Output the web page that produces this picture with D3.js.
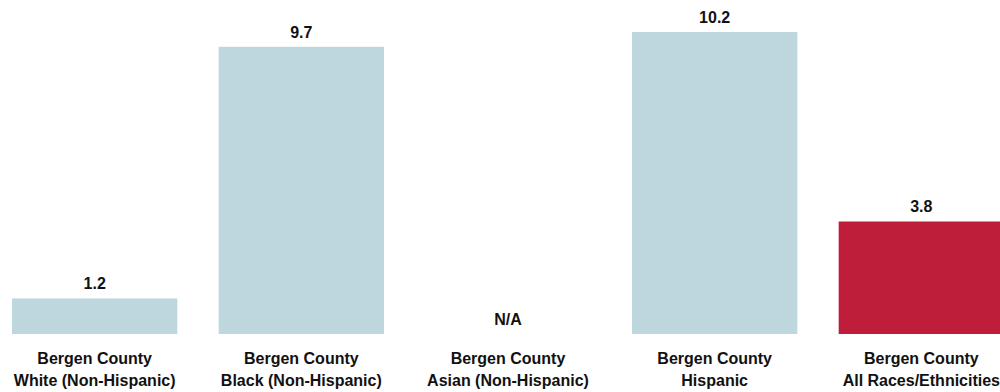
<!DOCTYPE html>
<html>
<head>
<meta charset="utf-8">
<script src="https://cdn.jsdelivr.net/npm/d3@7"></script>
<style>
  body { margin: 0; background: #fff; }
  svg text { font-family: "Liberation Sans Narrow", "Arial Narrow", "Liberation Sans", Arial, sans-serif; font-weight: bold; fill: #111; }
</style>
</head>
<body>
<svg id="chart" width="1000" height="392"></svg>
<script>
const groups = ['Bergen County', 'Bergen County', 'Bergen County', 'Bergen County', 'Bergen County'];
const subgroups = ['White (Non-Hispanic)', 'Black (Non-Hispanic)', 'Asian (Non-Hispanic)', 'Hispanic', 'All Races/Ethnicities'];
const values = [1.2, 9.7, null, 10.2, 3.8];
const highlight = [false, false, false, false, true];

const svg = d3.select('#chart');
const base = 334;
const x = d3.scaleBand().domain(d3.range(values.length)).range([12, 1004]).paddingInner(0.2).paddingOuter(0);
const y = d3.scaleLinear().domain([0, 10.2]).range([base, 32]);

const bars = svg.append('g');
values.forEach((v, i) => {
  if (v != null) {
    bars.append('rect')
      .attr('x', x(i))
      .attr('y', y(v))
      .attr('width', x.bandwidth())
      .attr('height', y(0) - y(v))
      .attr('fill', highlight[i] ? '#be1e3a' : '#bed7de');
  }
  svg.append('text')
    .attr('x', x(i) + x.bandwidth() / 2)
    .attr('y', (v != null ? y(v) : y(0)) - 9)
    .attr('text-anchor', 'middle')
    .attr('font-size', 16)
    .text(v != null ? v.toFixed(1) : 'N/A');
  const label = svg.append('text')
    .attr('x', x(i) + x.bandwidth() / 2)
    .attr('text-anchor', 'middle')
    .attr('font-size', 16);
  label.append('tspan').attr('x', x(i) + x.bandwidth() / 2).attr('y', 364).text(groups[i]);
  label.append('tspan').attr('x', x(i) + x.bandwidth() / 2).attr('y', 386).text(subgroups[i]);
});
</script>
</body>
</html>
